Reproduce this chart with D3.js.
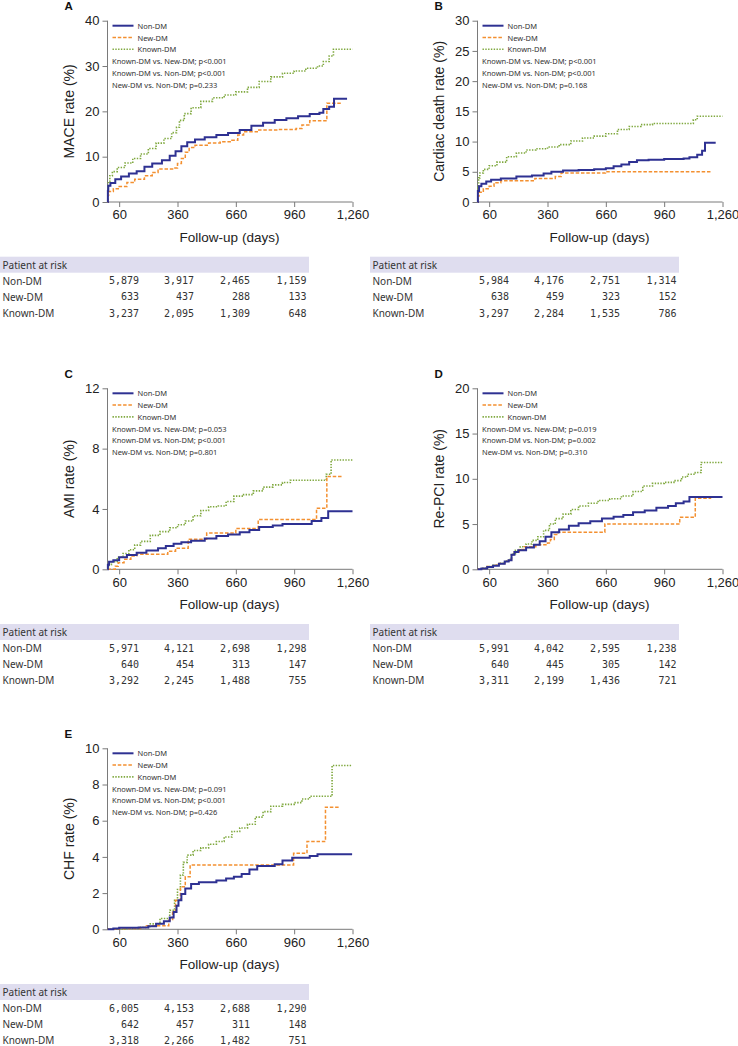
<!DOCTYPE html>
<html><head><meta charset="utf-8">
<script src="https://cdn.jsdelivr.net/npm/d3@7"></script>
<style>body{margin:0;background:#fff} svg{display:block}</style>
</head><body>
<svg id="chart" width="738" height="1046"></svg>
<script>
// ---------------- DATA ----------------
const groups = ["Non-DM", "New-DM", "Known-DM"];
const xTicks = [60, 360, 660, 960, 1260];
const panelLetters = ["A", "B", "C", "D", "E"];
const yTitles = ["MACE rate (%)", "Cardiac death rate (%)", "AMI rate (%)", "Re-PCI rate (%)", "CHF rate  (%)"];
const yMax = [40, 30, 12, 20, 10];
const yTicksA = [0, 10, 20, 30, 40];
const yTicksB = [0, 5, 10, 15, 20, 25, 30];
const yTicksC = [0, 4, 8, 12];
const yTicksD = [0, 5, 10, 15, 20];
const yTicksE = [0, 2, 4, 6, 8, 10];

const pTextsA = ["Known-DM vs. New-DM; p<0.001", "Known-DM vs. Non-DM; p<0.001", "New-DM vs. Non-DM; p=0.233"];
const pTextsB = ["Known-DM vs. New-DM; p<0.001", "Known-DM vs. Non-DM; p<0.001", "New-DM vs. Non-DM; p=0.168"];
const pTextsC = ["Known-DM vs. New-DM; p=0.053", "Known-DM vs. Non-DM; p<0.001", "New-DM vs. Non-DM; p=0.801"];
const pTextsD = ["Known-DM vs. New-DM; p=0.019", "Known-DM vs. Non-DM; p=0.002", "New-DM vs. Non-DM; p=0.310"];
const pTextsE = ["Known-DM vs. New-DM; p=0.091", "Known-DM vs. Non-DM; p<0.001", "New-DM vs. Non-DM; p=0.426"];

const riskA = [["5,879","3,917","2,465","1,159"],["633","437","288","133"],["3,237","2,095","1,309","648"]];
const riskB = [["5,984","4,176","2,751","1,314"],["638","459","323","152"],["3,297","2,284","1,535","786"]];
const riskC = [["5,971","4,121","2,698","1,298"],["640","454","313","147"],["3,292","2,245","1,488","755"]];
const riskD = [["5,991","4,042","2,595","1,238"],["640","445","305","142"],["3,311","2,199","1,436","721"]];
const riskE = [["6,005","4,153","2,688","1,290"],["642","457","311","148"],["3,318","2,266","1,482","751"]];

// [day, rate %] step points
const A_nonDM = [[0,0],[2,2.5],[4,3.6],[15,4.2],[40,5.0],[70,5.6],[110,6.3],[150,6.8],[190,7.8],[230,8.5],[280,9.2],[320,10.2],[350,11.2],[380,12.3],[410,13.2],[450,13.8],[500,14.3],[560,14.8],[620,15.2],[680,15.9],[740,16.8],[800,17.5],[860,18.1],[920,18.5],[980,18.9],[1040,19.4],[1090,19.7],[1110,20.5],[1140,21.0],[1165,22.8],[1232,22.8]];
const A_newDM = [[0,0],[3,1.5],[6,2.3],[30,2.9],[60,3.4],[100,4.3],[140,5.0],[190,5.8],[230,6.5],[260,7.3],[340,7.5],[360,8.5],[380,9.6],[400,11.0],[420,12.0],[450,12.5],[520,13.0],[580,13.3],[640,13.6],[670,14.8],[700,15.5],[770,15.9],[880,16.0],[970,16.2],[1000,17.0],[1040,17.9],[1128,21.8],[1206,21.8]];
const A_knownDM = [[0,0],[2,3.5],[5,4.5],[12,5.8],[25,6.7],[50,7.6],[90,8.6],[130,9.6],[170,10.6],[210,11.8],[250,13.0],[290,14.0],[330,15.3],[355,16.5],[370,18.0],[395,19.5],[430,20.8],[480,22.2],[540,23.0],[600,23.6],[660,24.3],[720,25.3],[780,26.6],[840,27.6],[900,28.4],[960,28.9],[1020,29.5],[1080,30.0],[1110,31.0],[1140,32.2],[1162,33.7],[1260,33.7]];

const B_nonDM = [[0,0],[2,1.8],[8,2.6],[20,3.0],[45,3.4],[70,3.7],[120,3.9],[200,4.2],[280,4.4],[340,4.7],[380,5.0],[440,5.2],[520,5.3],[600,5.4],[660,5.6],[700,5.9],[740,6.2],[780,6.6],[820,6.9],[880,7.0],[960,7.1],[1060,7.2],[1090,7.4],[1130,7.8],[1155,8.5],[1170,9.8],[1225,9.8]];
const B_newDM = [[0,0],[3,1.0],[8,1.6],[30,2.2],[60,2.6],[85,3.2],[120,3.5],[295,3.9],[400,4.2],[430,4.8],[658,5.0],[1205,5.0]];
const B_knownDM = [[0,0],[2,2.5],[6,4.0],[12,4.8],[30,5.4],[60,6.0],[100,6.6],[150,7.5],[200,8.1],[250,8.6],[300,8.8],[360,9.1],[420,9.5],[480,10.1],[540,10.6],[600,10.9],[660,11.3],[720,12.0],[780,12.5],[840,12.8],[900,13.0],[1090,13.0],[1110,13.6],[1130,14.2],[1260,14.2]];

const C_nonDM = [[0,0],[2,0.3],[8,0.5],[30,0.6],[60,0.8],[100,0.95],[150,1.1],[200,1.25],[260,1.4],[300,1.55],[340,1.7],[380,1.8],[430,1.9],[500,2.05],[560,2.2],[620,2.3],[680,2.45],[730,2.6],[780,2.8],[850,2.9],[900,3.0],[1030,3.0],[1050,3.2],[1100,3.4],[1135,3.85],[1260,3.85]];
const C_newDM = [[0,0],[40,0.2],[55,0.44],[85,0.66],[120,0.88],[150,1.0],[310,1.2],[350,1.4],[415,2.0],[510,2.4],[660,2.7],[775,3.3],[1075,4.05],[1128,6.15],[1206,6.15]];
const C_knownDM = [[0,0],[5,0.3],[20,0.5],[50,0.8],[80,1.05],[110,1.3],[140,1.6],[170,1.85],[220,2.25],[270,2.5],[320,2.75],[360,2.95],[400,3.2],[440,3.55],[480,3.9],[520,4.15],[570,4.2],[610,4.5],[650,4.85],[700,4.95],[750,5.2],[800,5.45],[850,5.6],[900,5.75],[940,5.9],[1110,5.9],[1125,6.3],[1150,7.25],[1260,7.25]];

const D_nonDM = [[0,0],[20,0.1],[50,0.25],[80,0.4],[110,0.6],[140,0.85],[160,1.0],[175,1.6],[190,1.9],[210,2.1],[250,2.4],[290,2.7],[320,3.1],[350,3.6],[380,4.1],[420,4.4],[470,4.8],[520,5.1],[580,5.3],[640,5.6],[700,5.8],[750,6.0],[800,6.3],[860,6.5],[920,6.8],[980,7.0],[1020,7.3],[1060,7.5],[1090,8.0],[1260,8.0]];
const D_newDM = [[0,0],[20,0.1],[50,0.3],[80,0.45],[110,0.65],[140,0.9],[160,1.05],[175,1.6],[190,1.95],[215,2.2],[240,2.5],[300,2.7],[360,2.9],[375,3.3],[395,3.85],[415,4.1],[655,5.0],[1040,5.75],[1120,7.85],[1202,7.85]];
const D_knownDM = [[0,0],[20,0.1],[50,0.3],[80,0.45],[110,0.65],[140,0.9],[160,1.1],[175,1.7],[195,2.1],[220,2.5],[250,2.8],[280,3.2],[310,3.6],[340,4.3],[370,5.0],[400,5.6],[440,6.1],[480,6.6],[520,7.0],[570,7.3],[620,7.6],[680,7.8],[740,8.1],[800,8.6],[850,9.2],[900,9.5],[960,9.6],[1010,9.8],[1050,10.2],[1080,10.5],[1120,10.7],[1150,11.8],[1260,11.8]];

const E_nonDM = [[0,0],[30,0.05],[60,0.08],[160,0.1],[210,0.17],[250,0.3],[290,0.45],[320,0.65],[340,0.95],[355,1.3],[365,1.6],[380,1.95],[400,2.25],[430,2.5],[470,2.6],[560,2.7],[610,2.8],[650,2.9],[690,3.05],[730,3.3],[770,3.5],[860,3.6],[900,3.8],[950,3.95],[1040,4.05],[1080,4.15],[1258,4.15]];
const E_newDM = [[0,0],[60,0.05],[170,0.1],[200,0.2],[315,0.5],[335,1.0],[350,1.6],[375,2.35],[400,2.9],[425,3.55],[957,4.2],[1026,4.85],[1121,6.75],[1189,6.75]];
const E_knownDM = [[0,0],[100,0.05],[170,0.1],[220,0.3],[270,0.6],[320,1.05],[345,1.6],[360,2.2],[375,3.0],[390,3.7],[410,4.1],[440,4.35],[480,4.5],[520,4.7],[560,4.85],[600,5.1],[640,5.4],[680,5.6],[720,5.8],[760,6.2],[800,6.5],[840,6.8],[900,6.9],[960,7.0],[1000,7.2],[1040,7.35],[1155,9.05],[1258,9.05]];

// ---------------- LAYOUT / STYLE ----------------
const layout = [
  {ox: 107.5, top: 20.7, bottom: 202},
  {ox: 477.5, top: 20.7, bottom: 202},
  {ox: 107.5, top: 388.3, bottom: 569.3},
  {ox: 477.5, top: 388.3, bottom: 569.3},
  {ox: 107.5, top: 748.3, bottom: 929.3}
];
const plotW = 245;
const colors = ["#2e3192", "#f39030", "#7fa83e"];
const dashes = [null, "3.5,1.8", "1.4,1.4"];
const widths = [2, 1.5, 1.6];
const axisColor = "#7a7a7a";
const sansAxis = "'Liberation Sans', Arial, sans-serif";
const sansText = "'Noto Sans', 'Open Sans', sans-serif";
const mono = "'DejaVu Sans Mono', monospace";

const panels = [
  {series: [A_nonDM, A_newDM, A_knownDM], yTicks: yTicksA, p: pTextsA, risk: riskA},
  {series: [B_nonDM, B_newDM, B_knownDM], yTicks: yTicksB, p: pTextsB, risk: riskB},
  {series: [C_nonDM, C_newDM, C_knownDM], yTicks: yTicksC, p: pTextsC, risk: riskC},
  {series: [D_nonDM, D_newDM, D_knownDM], yTicks: yTicksD, p: pTextsD, risk: riskD},
  {series: [E_nonDM, E_newDM, E_knownDM], yTicks: yTicksE, p: pTextsE, risk: riskE}
];

const svg = d3.select("#chart");
const fmt = d3.format(",");

panels.forEach((pn, i) => {
  const L = layout[i];
  const x = d3.scaleLinear().domain([0, 1260]).range([L.ox, L.ox + plotW]);
  const y = d3.scaleLinear().domain([0, yMax[i]]).range([L.bottom, L.top]);
  const g = svg.append("g");

  // panel letter
  g.append("text").attr("x", L.ox - 43).attr("y", L.top - 10.5)
    .attr("font-family", sansAxis).attr("font-weight", "bold").attr("font-size", 11.5)
    .attr("fill", "#111").text(panelLetters[i]);

  // y axis
  const yAxis = d3.axisLeft(y).tickValues(pn.yTicks).tickSize(5).tickPadding(3).tickFormat(d3.format("d"));
  const ya = g.append("g").attr("transform", `translate(${L.ox},0)`).call(yAxis);
  // x axis
  const xAxis = d3.axisBottom(x).tickValues(xTicks).tickSize(5).tickPadding(3).tickFormat(fmt);
  const xa = g.append("g").attr("transform", `translate(0,${L.bottom})`).call(xAxis);
  [ya, xa].forEach(a => {
    a.select(".domain").attr("stroke", axisColor).attr("stroke-width", 1);
    a.selectAll(".tick line").attr("stroke", axisColor);
    a.selectAll("text").attr("font-family", sansAxis).attr("font-size", 13).attr("fill", "#222");
  });
  ya.select(".domain").attr("d", `M0,${L.bottom}V${L.top}`);
  xa.select(".domain").attr("d", `M${L.ox},0H${L.ox + plotW}`);

  // axis titles
  g.append("text").attr("transform", `translate(${L.ox - 39},${(L.top + L.bottom) / 2}) rotate(-90)`)
    .attr("text-anchor", "middle").attr("dominant-baseline", "central")
    .attr("font-family", sansAxis).attr("font-size", 14).attr("fill", "#222").text(yTitles[i]);
  g.append("text").attr("x", L.ox + 122).attr("y", L.bottom + 35)
    .attr("text-anchor", "middle").attr("dominant-baseline", "central")
    .attr("font-family", sansAxis).attr("font-size", 13.5).attr("fill", "#222").text("Follow-up (days)");

  // curves
  const line = d3.line().x(d => x(d[0])).y(d => y(d[1])).curve(d3.curveStepAfter);
  [2, 1, 0].forEach(k => {
    g.append("path").datum(pn.series[k]).attr("d", line)
      .attr("fill", "none").attr("stroke", colors[k]).attr("stroke-width", widths[k])
      .attr("stroke-dasharray", dashes[k]);
  });

  // legend
  groups.forEach((name, k) => {
    const yy = L.top + 5 + k * 11.8;
    g.append("line").attr("x1", L.ox + 5).attr("x2", L.ox + 26).attr("y1", yy).attr("y2", yy)
      .attr("stroke", colors[k]).attr("stroke-width", widths[k]).attr("stroke-dasharray", dashes[k]);
    g.append("text").attr("x", L.ox + 30).attr("y", yy).attr("dominant-baseline", "central")
      .attr("font-family", sansText).attr("font-size", 7.5).attr("fill", "#333").text(name);
  });
  pn.p.forEach((t, k) => {
    g.append("text").attr("x", L.ox + 4.5).attr("y", L.top + 40.4 + k * 11.7).attr("dominant-baseline", "central")
      .attr("font-family", sansText).attr("font-size", 7.5).attr("fill", "#333").text(t);
  });

  // risk table
  const tTop = L.bottom + 54.7;
  g.append("rect").attr("x", L.ox - 107.5).attr("y", tTop).attr("width", 309).attr("height", 16)
    .attr("fill", "#dfddef");
  g.append("text").attr("x", L.ox - 105).attr("y", tTop + 8.3).attr("dominant-baseline", "central")
    .attr("font-family", sansText).attr("font-size", 10).attr("fill", "#333").text("Patient at risk");
  const colR = [31.5, 86.5, 142.5, 199];
  groups.forEach((name, r) => {
    const yy = tTop + 24 + r * 16.2;
    g.append("text").attr("x", L.ox - 105).attr("y", yy).attr("dominant-baseline", "central")
      .attr("font-family", sansText).attr("font-size", 10).attr("fill", "#333").text(name);
    pn.risk[r].forEach((v, c) => {
      g.append("text").attr("x", L.ox + colR[c]).attr("y", yy).attr("text-anchor", "end")
        .attr("dominant-baseline", "central").attr("font-family", mono).attr("font-size", 10)
        .attr("fill", "#333").text(v);
    });
  });
});
</script>
</body></html>
